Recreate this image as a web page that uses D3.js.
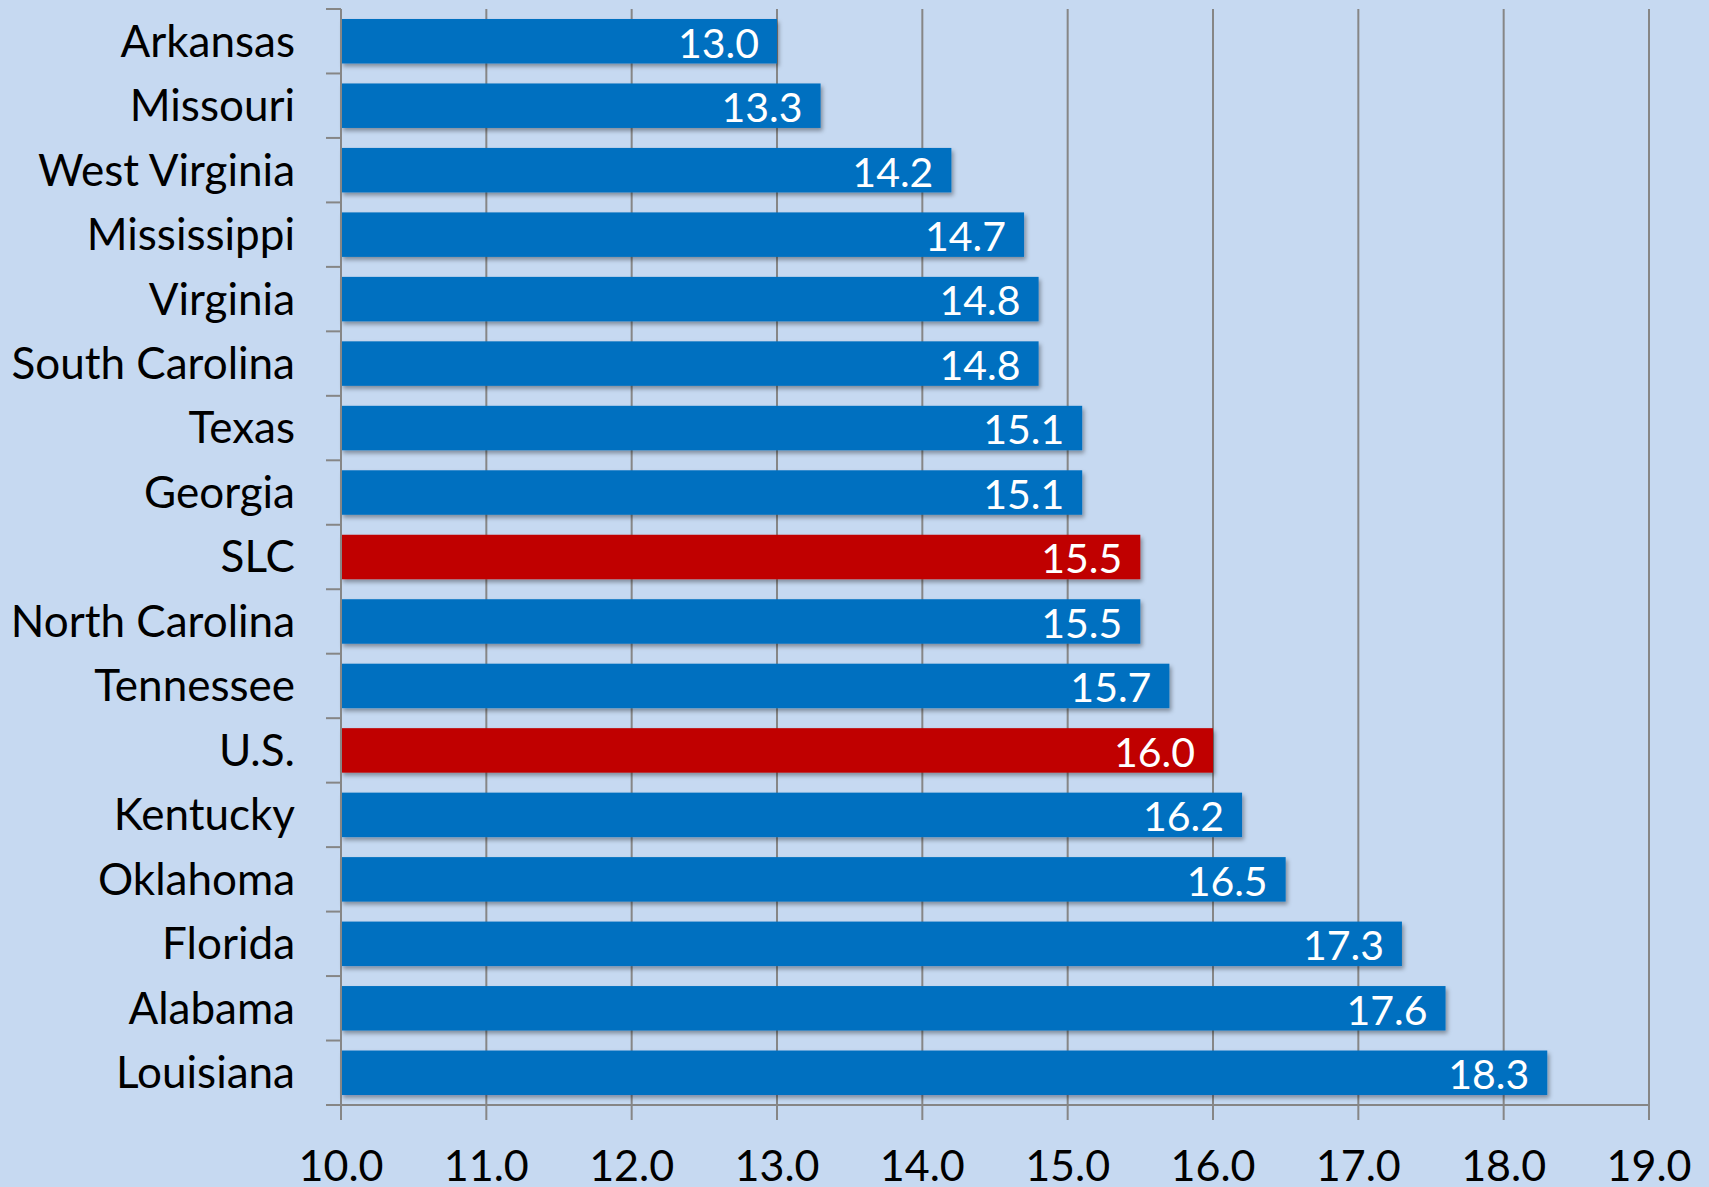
<!DOCTYPE html>
<html>
<head>
<meta charset="utf-8">
<script src="https://cdn.jsdelivr.net/npm/d3@7"></script>
<style>
  html, body { margin: 0; padding: 0; background: #C6D9F1; }
  svg { display: block; }
  text { font-family: Lato, "Open Sans", sans-serif; }
</style>
</head>
<body>
<div id="chart"></div>
<script>
// data
var states = ["Arkansas", "Missouri", "West Virginia", "Mississippi", "Virginia",
  "South Carolina", "Texas", "Georgia", "SLC", "North Carolina", "Tennessee",
  "U.S.", "Kentucky", "Oklahoma", "Florida", "Alabama", "Louisiana"];
var values = [13.0, 13.3, 14.2, 14.7, 14.8, 14.8, 15.1, 15.1, 15.5, 15.5, 15.7,
  16.0, 16.2, 16.5, 17.3, 17.6, 18.3];
var highlighted = ["SLC", "U.S."];
var xTicks = [10, 11, 12, 13, 14, 15, 16, 17, 18, 19];

var width = 1709, height = 1187;
var margin = {top: 9, right: 60, bottom: 82, left: 341};

var svg = d3.select("#chart").append("svg")
    .attr("width", width)
    .attr("height", height)
    .style("background", "#C6D9F1");

// soft shadow like the office chart
var defs = svg.append("defs");
var f = defs.append("filter").attr("id", "shadow")
    .attr("x", "-5%").attr("y", "-20%").attr("width", "110%").attr("height", "160%");
f.append("feDropShadow")
    .attr("dx", 2).attr("dy", 3).attr("stdDeviation", 2)
    .attr("flood-color", "#000").attr("flood-opacity", 0.35);

var x = d3.scaleLinear()
    .domain([10, 19])
    .range([margin.left, width - margin.right]);

var y = d3.scaleBand()
    .domain(states)
    .range([margin.top, height - margin.bottom])
    .paddingInner(0.31)
    .paddingOuter(0.155);

var data = states.map(function(d, i) { return {state: d, value: values[i]}; });

// gridlines
svg.append("g")
  .selectAll("line")
  .data(xTicks.slice(1))
  .join("line")
    .attr("x1", d => x(d)).attr("x2", d => x(d))
    .attr("y1", margin.top).attr("y2", height - margin.bottom)
    .attr("stroke", "#868686")
    .attr("stroke-width", 2);

// bars
svg.append("g")
  .selectAll("rect")
  .data(data)
  .join("rect")
    .attr("x", x(10))
    .attr("y", d => y(d.state))
    .attr("width", d => x(d.value) - x(10))
    .attr("height", y.bandwidth())
    .attr("fill", d => highlighted.includes(d.state) ? "#C00000" : "#0070C0")
    .attr("filter", "url(#shadow)");

// value labels
svg.append("g")
  .selectAll("text")
  .data(data)
  .join("text")
    .attr("x", d => x(d.value) - 18)
    .attr("y", d => y(d.state) + y.bandwidth() / 2 + 2)
    .attr("dy", "0.35em")
    .attr("text-anchor", "end")
    .attr("fill", "white")
    .style("font-size", "41px")
    .text(d => d.value.toFixed(1));

// y axis
var yAxis = svg.append("g")
    .attr("transform", "translate(" + margin.left + ",0)");
yAxis.append("line")
    .attr("x1", 0).attr("x2", 0)
    .attr("y1", margin.top).attr("y2", height - margin.bottom)
    .attr("stroke", "#868686").attr("stroke-width", 2);
var yTickPos = d3.range(states.length + 1).map(i => margin.top + i * y.step() / (1 - 0) * (1));
yAxis.selectAll(".ytick")
  .data(d3.range(states.length + 1))
  .join("line")
    .attr("class", "ytick")
    .attr("x1", -15).attr("x2", 0)
    .attr("y1", i => margin.top + i * (height - margin.bottom - margin.top) / states.length)
    .attr("y2", i => margin.top + i * (height - margin.bottom - margin.top) / states.length)
    .attr("stroke", "#868686").attr("stroke-width", 2);
yAxis.selectAll(".ylabel")
  .data(states)
  .join("text")
    .attr("class", "ylabel")
    .attr("x", -46)
    .attr("y", d => y(d) + y.bandwidth() / 2)
    .attr("dy", "0.35em")
    .attr("text-anchor", "end")
    .attr("fill", "#000")
    .style("font-size", "44px")
    .text(d => d);

// x axis
var xAxis = svg.append("g")
    .attr("transform", "translate(0," + (height - margin.bottom) + ")");
xAxis.append("line")
    .attr("x1", x(10)).attr("x2", x(19))
    .attr("y1", 0).attr("y2", 0)
    .attr("stroke", "#868686").attr("stroke-width", 2);
xAxis.selectAll(".xtick")
  .data(xTicks)
  .join("line")
    .attr("class", "xtick")
    .attr("x1", d => x(d)).attr("x2", d => x(d))
    .attr("y1", 0).attr("y2", 15)
    .attr("stroke", "#868686").attr("stroke-width", 2);
xAxis.selectAll(".xlabel")
  .data(xTicks)
  .join("text")
    .attr("class", "xlabel")
    .attr("x", d => x(d))
    .attr("y", 76)
    .attr("text-anchor", "middle")
    .attr("fill", "#000")
    .style("font-size", "43px")
    .text(d => d.toFixed(1));
</script>
</body>
</html>
